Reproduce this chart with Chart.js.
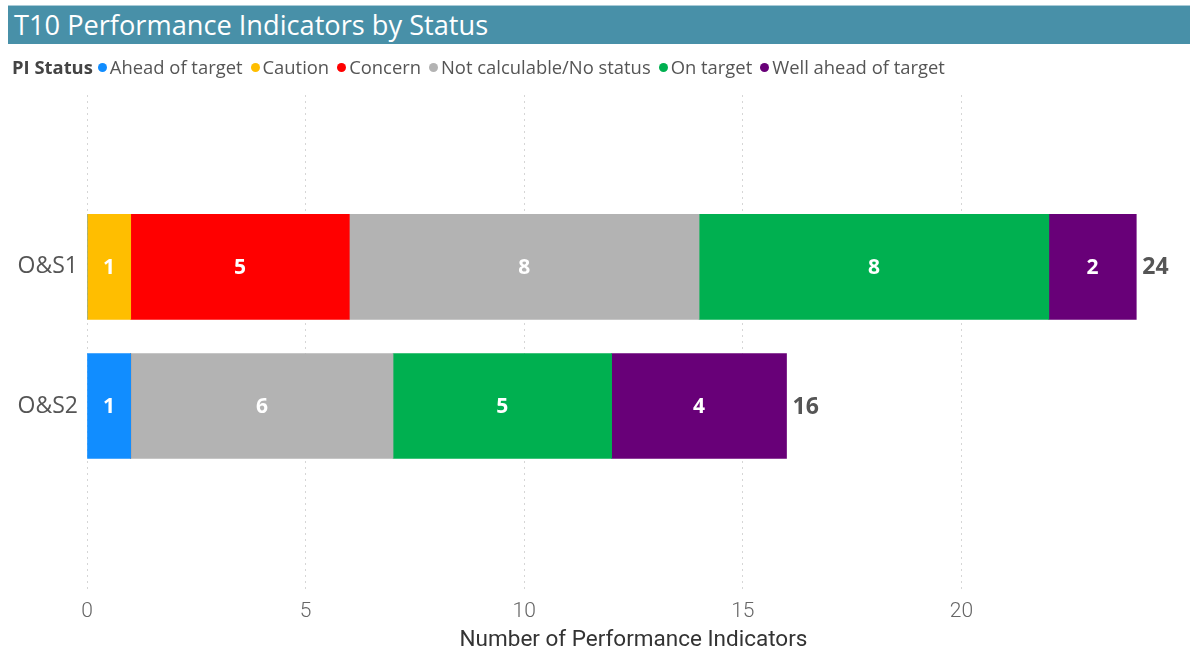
<!DOCTYPE HTML><html><head>
<meta name="viewport" content="width=device-width, initial-scale=1">
<style>
    html, body {
      margin: 0px;
      background: #fff;
    }
    .page{
      position: relative;
      width: 1198px;
      height: 654px;
      font-family: "Open Sans", "Noto Sans", sans-serif;
    }
    .title-bar{
      position: absolute;
      left: 8px;
      top: 5px;
      width: 1182px;
      height: 39px;
      background: #4890a8;
      border-top: 1px solid #a9cbd7;
      box-sizing: border-box;
      color: #fff;
      font-size: 27.2px;
      line-height: 38px;
      padding-left: 6px;
    }
    .legend{
      position: absolute;
      left: 12px;
      top: 54px;
      font-size: 18.4px;
      color: #555;
      white-space: nowrap;
    }
    .legend b{
      color: #444;
      margin-right: 2px;
    }
    .legend .dot{
      display: inline-block;
      width: 9px;
      height: 9px;
      border-radius: 50%;
      margin: 0 3px 2px 3px;
    }
    .legend .item{
      margin-right: 5px;
    }
    canvas{
      position: absolute;
      left: 0;
      top: 0;
    }
</style>
</head>
<body>
<div class="page">
  <canvas id="myChart" width="1198" height="654"></canvas>
  <div class="title-bar">T10 Performance Indicators by Status</div>
  <div class="legend" id="legend"><b>PI Status</b></div>
</div>

<script src="https://cdn.jsdelivr.net/npm/chart.js@4/dist/chart.umd.min.js"></script>
<script>
// data
var categories = ['O&S1', 'O&S2'];
var statuses = ['Ahead of target', 'Caution', 'Concern', 'Not calculable/No status', 'On target', 'Well ahead of target'];
var statusColors = ['#118dff', '#ffbe00', '#ff0000', '#b3b3b3', '#00b050', '#680078'];
var aheadOfTarget = [0, 1];
var caution = [1, 0];
var concern = [5, 0];
var notCalculable = [8, 6];
var onTarget = [8, 5];
var wellAhead = [2, 4];
var xTicks = [0, 5, 10, 15, 20];

var seriesValues = [aheadOfTarget, caution, concern, notCalculable, onTarget, wellAhead];

// html legend built from the same arrays
var legendDiv = document.getElementById('legend');
statuses.forEach(function(s, i) {
  var span = document.createElement('span');
  span.className = 'item';
  span.innerHTML = '<span class="dot" style="background:' + statusColors[i] + '"></span>' + s;
  legendDiv.appendChild(span);
});

var datasets = statuses.map(function(s, i) {
  return {
    label: s,
    data: seriesValues[i].map(function(v, j) { return {x: v, y: j}; }),
    backgroundColor: statusColors[i],
    borderWidth: 0,
    barThickness: 105
  };
});

// value labels inside the bars + totals at the end
var barLabels = {
  id: 'barLabels',
  afterDatasetsDraw: function(chart) {
    var ctx = chart.ctx;
    ctx.save();
    ctx.textBaseline = 'middle';
    ctx.font = 'bold 21px "Open Sans"';
    chart.data.datasets.forEach(function(ds, i) {
      var meta = chart.getDatasetMeta(i);
      meta.data.forEach(function(el, j) {
        var v = seriesValues[i][j];
        if (!v) return;
        ctx.fillStyle = '#fff';
        ctx.textAlign = 'center';
        ctx.fillText(v, (el.x + el.base) / 2, el.y + 1);
      });
    });
    var xs = chart.scales.x, ys = chart.scales.y;
    ctx.font = 'bold 23px "Open Sans"';
    categories.forEach(function(c, j) {
      var total = 0;
      seriesValues.forEach(function(arr) { total += arr[j]; });
      ctx.fillStyle = '#555';
      ctx.textAlign = 'left';
      ctx.fillText(total, xs.getPixelForValue(total) + 6, ys.getPixelForValue(j) + 1);
    });
    ctx.restore();
  }
};

var ctx = document.getElementById('myChart');
var myChart = new Chart(ctx, {
  type: 'bar',
  data: { datasets: datasets },
  plugins: [barLabels],
  options: {
    indexAxis: 'y',
    responsive: false,
    animation: false,
    layout: { padding: { top: 95, right: 18, left: 0, bottom: 0 } },
    plugins: {
      legend: { display: false },
      tooltip: { enabled: false }
    },
    scales: {
      x: {
        type: 'linear',
        stacked: true,
        min: 0,
        max: 25,
        afterBuildTicks: function(scale) {
          scale.ticks = xTicks.map(function(v) { return {value: v}; });
        },
        afterFit: function(scale) { scale.height = 64; },
        grid: { color: '#d6d6d6', drawTicks: false },
        border: { display: false, dash: [2, 4] },
        ticks: {
          padding: 9,
          color: '#666',
          font: { family: 'Roboto', size: 21, weight: 300 }
        },
        title: {
          display: true,
          text: 'Number of Performance Indicators',
          color: '#333',
          padding: { top: 0, bottom: 0 },
          font: { family: 'Roboto', size: 22.5 }
        }
      },
      y: {
        type: 'linear',
        stacked: true,
        reverse: true,
        offset: false,
        min: -1.237,
        max: 2.324,
        afterBuildTicks: function(scale) {
          scale.ticks = categories.map(function(c, i) { return {value: i}; });
        },
        afterFit: function(scale) { scale.width = 87; },
        grid: { display: false, drawTicks: false },
        border: { display: false },
        ticks: {
          padding: 9,
          color: '#555',
          font: { family: '"Open Sans"', size: 23 },
          callback: function(v) { return categories[v]; }
        }
      }
    }
  }
});
</script>
</body></html>
